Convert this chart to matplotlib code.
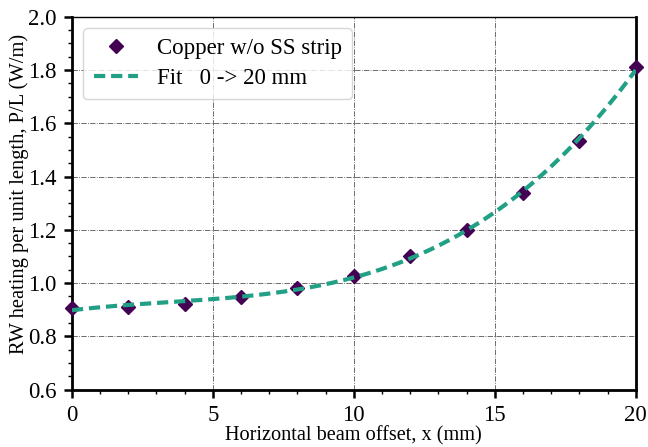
import numpy as np
import matplotlib
matplotlib.use("Agg")
import matplotlib.pyplot as plt
from matplotlib.ticker import MultipleLocator

x_mm = [0, 2, 4, 6, 8, 10, 12, 14, 16, 18, 20]
p_per_l = [0.906, 0.912, 0.923, 0.949, 0.980, 1.028, 1.100, 1.199, 1.337, 1.532, 1.809]
data_label = "Copper w/o SS strip"
fit_label = "Fit   0 -> 20 mm"
x_label = "Horizontal beam offset, x (mm)"
y_label = "RW heating per unit length, P/L (W/m)"

plt.rcParams['font.family'] = ['Liberation Serif', 'DejaVu Serif']
plt.rcParams['mathtext.fontset'] = 'stix'

fig = plt.figure(figsize=(6.48, 4.47), dpi=100)
ax = fig.add_axes([0.111, 0.128, 0.870, 0.835])

coef = np.polyfit(x_mm, p_per_l, 3)
xf = np.linspace(0, 20, 300)
yf = np.polyval(coef, xf)

ax.plot(x_mm, p_per_l, linestyle='none', marker='D', markersize=7,
        color='#440154', label=data_label, zorder=3, clip_on=False)
ax.plot(xf, yf, linestyle='--', dashes=(2.7, 1.4), linewidth=3.0, color='#22a085',
        label=fit_label, zorder=4)

ax.set_xlim(0, 20)
ax.set_ylim(0.6, 2.0)
ax.xaxis.set_major_locator(MultipleLocator(5))
ax.xaxis.set_minor_locator(MultipleLocator(1))
ax.yaxis.set_major_locator(MultipleLocator(0.2))
ax.yaxis.set_minor_locator(MultipleLocator(0.05))
ax.yaxis.set_major_formatter(matplotlib.ticker.FormatStrFormatter('%.1f'))

ax.grid(True, which='major', linestyle='-.', linewidth=0.6, color='#555555')
ax.tick_params(which='major', direction='out', length=6, width=1.8, labelsize=16.5, pad=5)
ax.tick_params(which='minor', direction='out', length=3, width=1.0)

for s in ['left', 'bottom', 'right']:
    ax.spines[s].set_linewidth(2.0)
ax.spines['top'].set_linewidth(1.0)

ax.set_xlabel(x_label, fontsize=14.6)
ax.set_ylabel(y_label, fontsize=14.8)
ax.xaxis.set_label_coords(0.5, -0.098)
ax.yaxis.set_label_coords(-0.077, 0.525)

leg = ax.legend(loc='upper left', fontsize=16.5, frameon=True, fancybox=True,
                handlelength=1.95, borderpad=0.45, labelspacing=0.38)
leg.get_frame().set_edgecolor('#cccccc')

fig.savefig("out.png", dpi=100)
